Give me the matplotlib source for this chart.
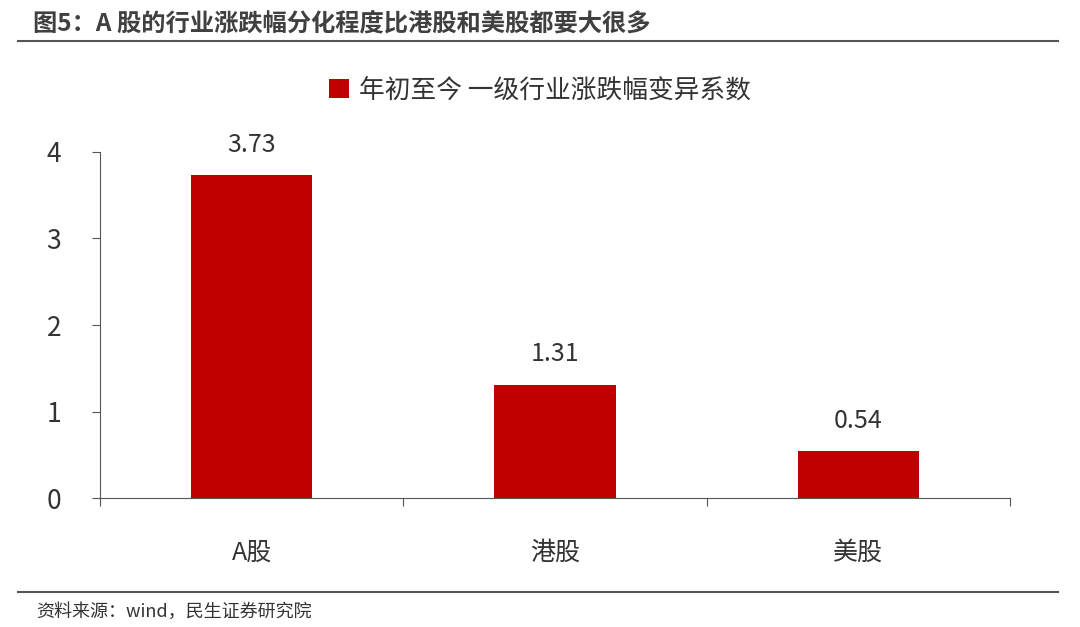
import matplotlib
matplotlib.use("Agg")
import matplotlib.pyplot as plt
from matplotlib.lines import Line2D

plt.rcParams['font.family'] = ['Noto Sans CJK SC', 'DejaVu Sans']

categories = ['A股', '港股', '美股']
values = [3.73, 1.31, 0.54]
series_name = '年初至今 一级行业涨跌幅变异系数'
title = '图5：A 股的行业涨跌幅分化程度比港股和美股都要大很多'
source = '资料来源：wind，民生证券研究院'

fig = plt.figure(figsize=(10.8, 6.27), dpi=100)
ax = fig.add_axes([0.0926, 0.2057, 0.8424, 0.5519])
x = range(len(categories))
bars = ax.bar(x, values, width=0.4, color='#C00000', label=series_name)
for xi, v in zip(x, values):
    ax.text(xi, v + 0.2, f'{v:.2f}', ha='center', va='bottom', fontsize=18, color='#333333')
ax.set_xlim(-0.5, 2.5)
ax.set_ylim(0, 4)
ax.set_yticks([0, 1, 2, 3, 4])
ax.set_xticks([-0.5, 0.5, 1.5, 2.5])
ax.set_xticklabels([])
ax.set_xticks(list(x), minor=True)
ax.set_xticklabels(categories, minor=True, fontsize=18, color='#333333')
ax.tick_params(axis='x', which='minor', length=0, pad=30)
ax.tick_params(axis='x', which='major', length=6, color='#555555', direction='out')
ax.tick_params(axis='y', labelsize=19, labelcolor='#333333', length=6, color='#555555', pad=22)
for s in ['top', 'right']:
    ax.spines[s].set_visible(False)
for s in ['left', 'bottom']:
    ax.spines[s].set_color('#555555')
leg = fig.legend(handles=[bars], labels=[series_name], loc='center', bbox_to_anchor=(0.5, 0.856),
                 frameon=False, fontsize=18.5, handlelength=0.8, handleheight=0.8, handletextpad=0.4)
for t in leg.get_texts():
    t.set_color('#333333')

fig.text(0.031, 0.962, title, fontsize=17.5, fontweight='bold', color='#404040', va='center')
fig.add_artist(Line2D([0.017, 0.98], [0.935, 0.935], color='#555555', lw=1.5))
fig.add_artist(Line2D([0.017, 0.98], [0.056, 0.056], color='#555555', lw=1.5))
fig.text(0.033, 0.024, source, fontsize=13, color='#333333', va='center')

fig.savefig('out.png', dpi=100)
